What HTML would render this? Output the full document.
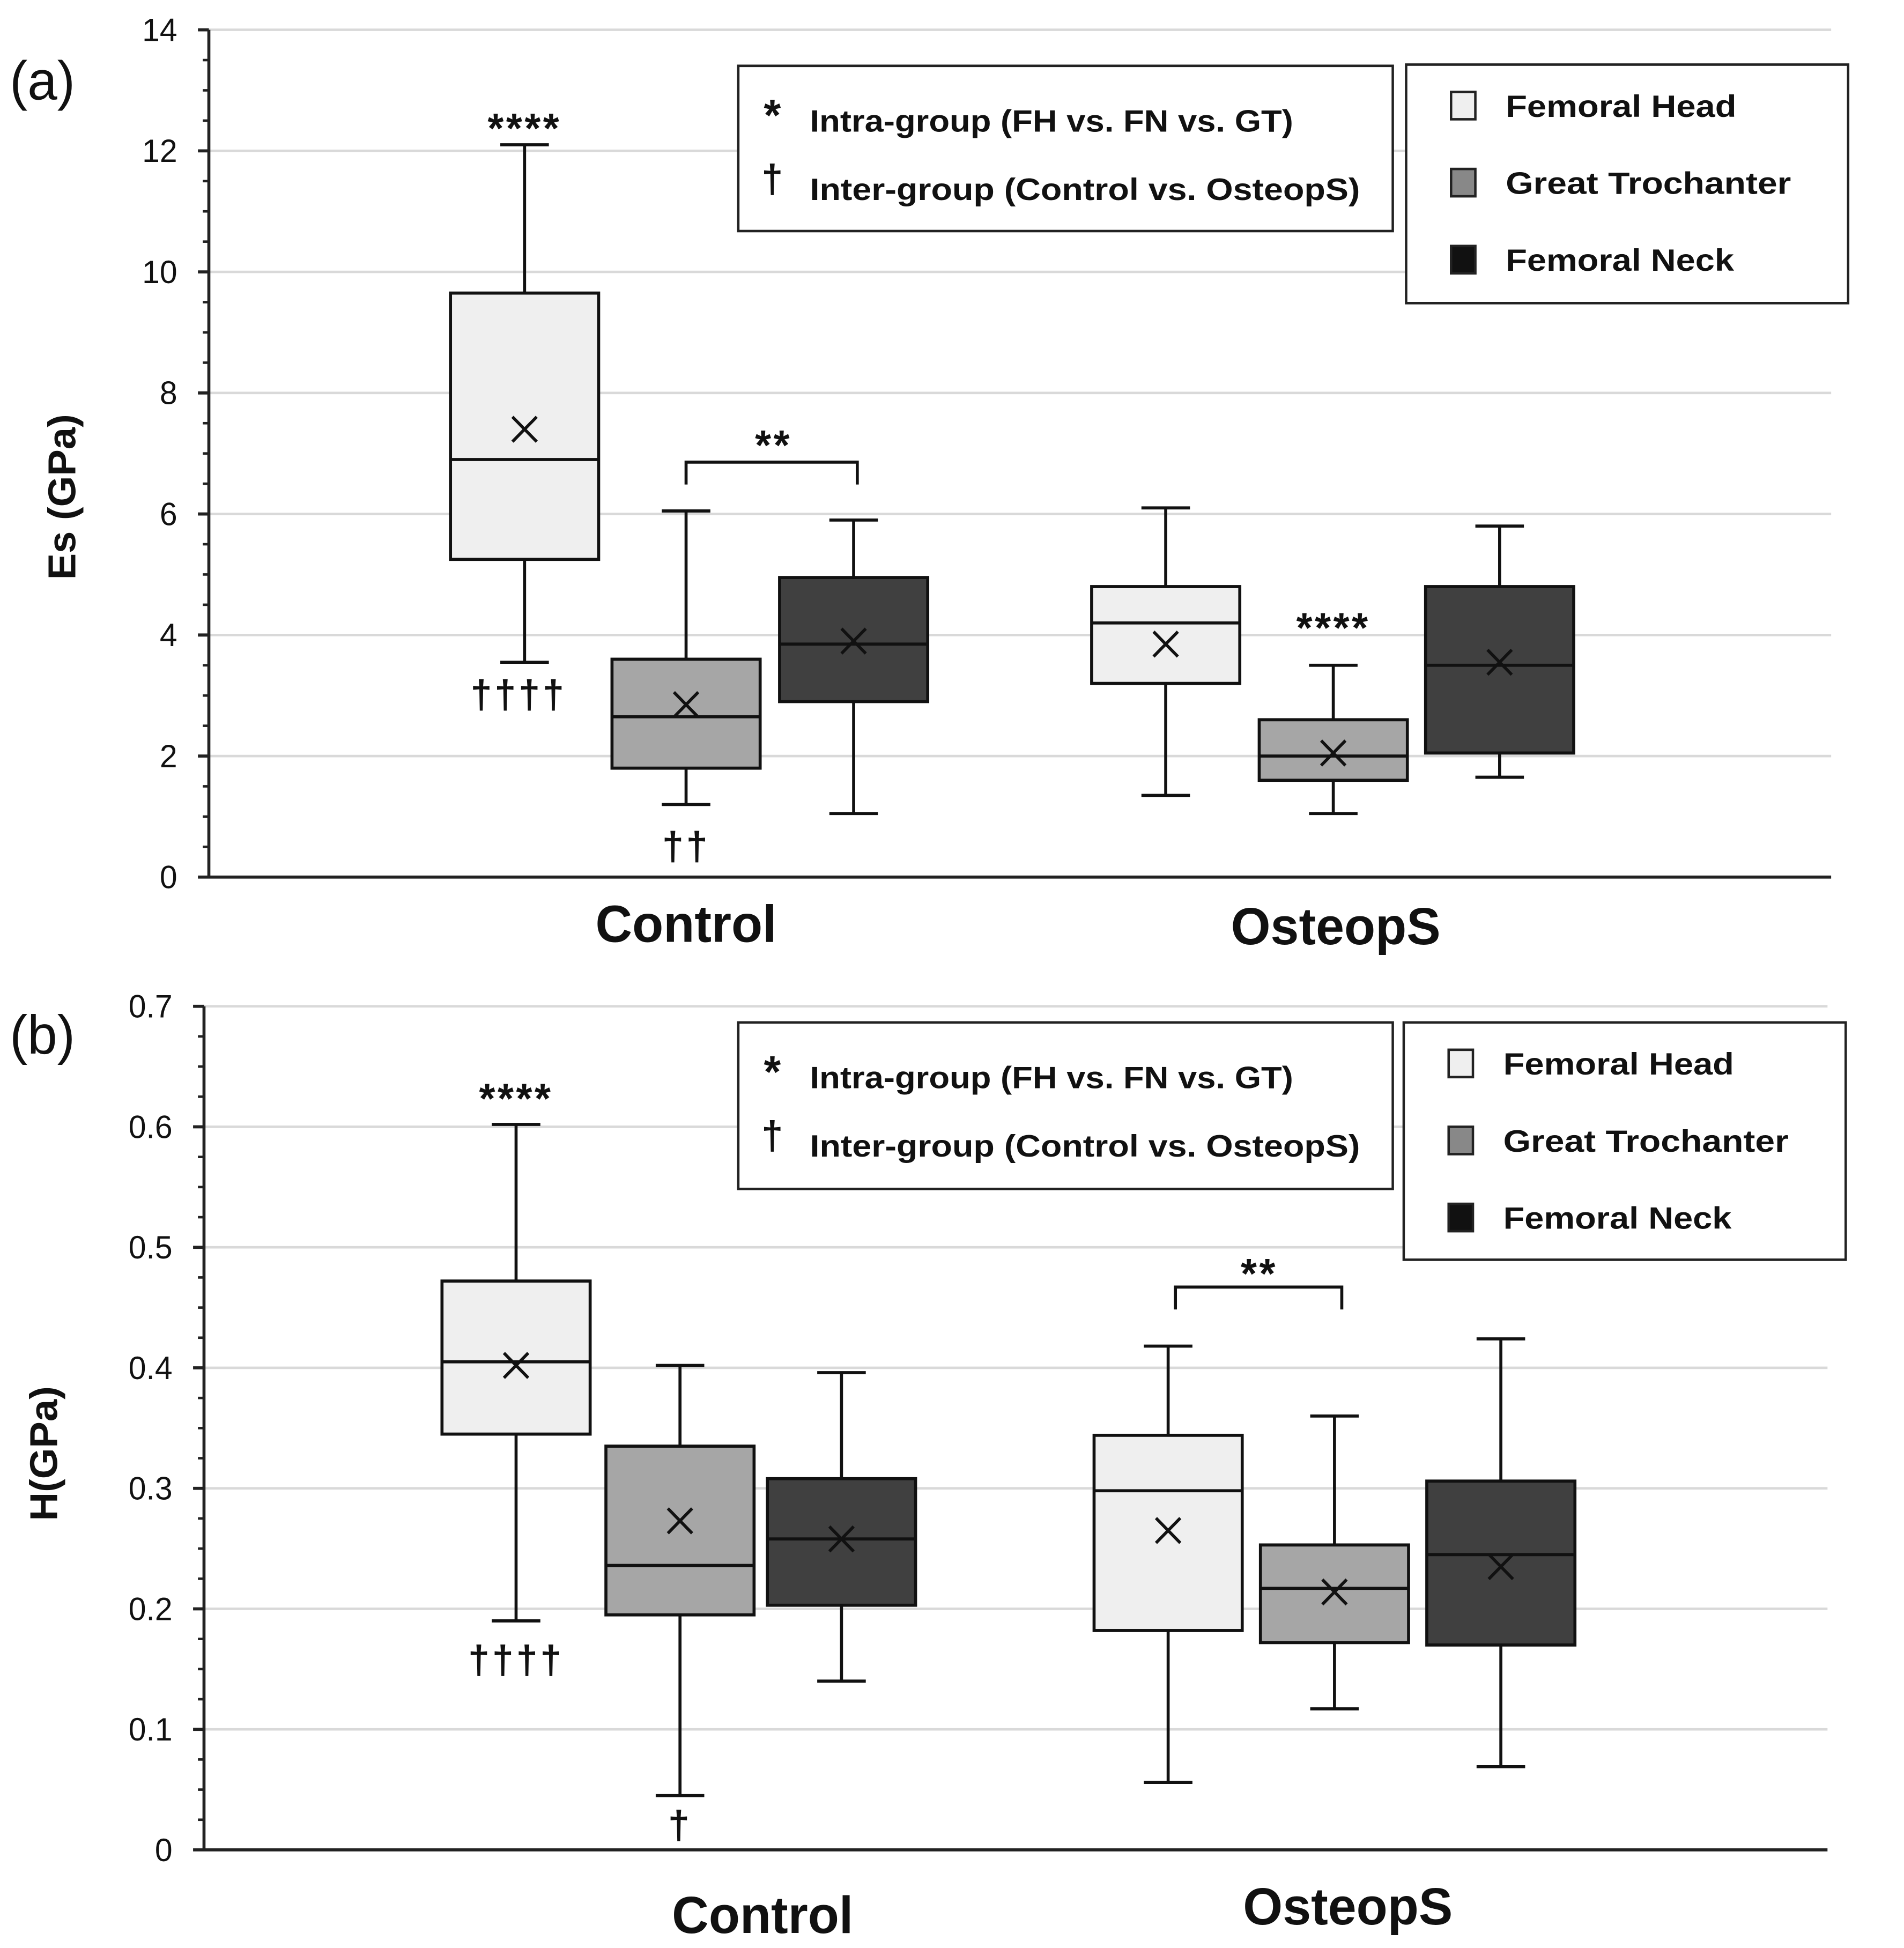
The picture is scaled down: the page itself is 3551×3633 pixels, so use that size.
<!DOCTYPE html>
<html><head><meta charset="utf-8"><style>
html,body{margin:0;padding:0;background:#fff;}
svg{display:block;}
text{font-family:"Liberation Sans",sans-serif;fill:#111;}
</style></head><body>
<svg id="chart" width="3551" height="3633" viewBox="0 0 1568 1568" preserveAspectRatio="none" xmlns="http://www.w3.org/2000/svg"></svg>
<script>
const groups = ["Control", "OsteopS"];
const seriesNames = ["Femoral Head", "Great Trochanter", "Femoral Neck"];
const seriesColors = ["#efefef", "#a6a6a6", "#404040"];
// panel a: Es (GPa) [min, q1, median, q3, max, mean] per group per series
const esControl = [[3.55, 5.25, 6.9, 9.65, 12.1, 7.4], [1.2, 1.8, 2.65, 3.6, 6.05, 2.85], [1.05, 2.9, 3.85, 4.95, 5.9, 3.9]];
const esOsteop = [[1.35, 3.2, 4.2, 4.8, 6.1, 3.85], [1.05, 1.6, 2.0, 2.6, 3.5, 2.05], [1.65, 2.05, 3.5, 4.8, 5.8, 3.55]];
const esTicks = [0, 2, 4, 6, 8, 10, 12, 14];
// panel b: H (GPa)
const hControl = [[0.19, 0.345, 0.405, 0.472, 0.602, 0.402], [0.045, 0.195, 0.236, 0.335, 0.402, 0.273], [0.14, 0.203, 0.258, 0.308, 0.396, 0.258]];
const hOsteop = [[0.056, 0.182, 0.298, 0.344, 0.418, 0.265], [0.117, 0.172, 0.217, 0.253, 0.36, 0.214], [0.069, 0.17, 0.245, 0.306, 0.424, 0.235]];
const hTicks = ["0", "0.1", "0.2", "0.3", "0.4", "0.5", "0.6", "0.7"];

const NS = "http://www.w3.org/2000/svg";
const svg = document.getElementById("chart");
function mk(tag, attrs, parent, txt) {
  const e = document.createElementNS(NS, tag);
  for (const k in attrs) e.setAttribute(k, attrs[k]);
  if (txt !== undefined) e.textContent = txt;
  (parent || svg).appendChild(e);
  return e;
}

function panel(cfg) {
  const g = mk("g", {});
  
  
  const y = v => cfg.y0 - (v - cfg.vmin) / (cfg.vmax - cfg.vmin) * (cfg.y0 - cfg.yTop);
  cfg.ticks.forEach((t, i) => {
    const v = cfg.vmin + i * cfg.step;
    if (i > 0) {
      const gl = mk("line", {x1: cfg.ax, x2: cfg.xr, y1: y(v), y2: y(v), stroke: "#d9d9d9", "stroke-width": 2}, g);
      
      
    }
    const tl = mk("text", {x: cfg.ax - 26, y: y(v) + 9, "text-anchor": "end", "font-size": 26}, g, t);
    
    
    mk("line", {x1: cfg.ax - 9, x2: cfg.ax, y1: y(v), y2: y(v), stroke: "#222", "stroke-width": 2.5}, g);
  });
  const nMinor = (cfg.ticks.length - 1) * cfg.minor;
  for (let i = 1; i < nMinor; i++) {
    if (i % cfg.minor === 0) continue;
    const v = cfg.vmin + i * cfg.step / cfg.minor;
    mk("line", {x1: cfg.ax - 5, x2: cfg.ax, y1: y(v), y2: y(v), stroke: "#222", "stroke-width": 2}, g);
  }
  const ya = mk("line", {x1: cfg.ax, x2: cfg.ax, y1: cfg.yTop, y2: cfg.y0, stroke: "#222", "stroke-width": 2.5}, g);
  
  
  const xa = mk("line", {x1: cfg.ax, x2: cfg.xr, y1: cfg.y0, y2: cfg.y0, stroke: "#222", "stroke-width": 2.5}, g);
  
  
  [cfg.ctrl, cfg.ost].forEach((grp, gi) => {
    grp.forEach((d, si) => {
      const cx = cfg.centers[gi][si], hw = 61;
      const bg = mk("g", {}, g);
      
      
      mk("line", {x1: cx, x2: cx, y1: y(d[4]), y2: y(d[0]), stroke: "#111", "stroke-width": 2.5}, bg);
      mk("line", {x1: cx - 20, x2: cx + 20, y1: y(d[4]), y2: y(d[4]), stroke: "#111", "stroke-width": 2.5}, bg);
      mk("line", {x1: cx - 20, x2: cx + 20, y1: y(d[0]), y2: y(d[0]), stroke: "#111", "stroke-width": 2.5}, bg);
      mk("rect", {x: cx - hw, y: y(d[3]), width: 2 * hw, height: y(d[1]) - y(d[3]), fill: seriesColors[si], stroke: "#111", "stroke-width": 2.5}, bg);
      mk("line", {x1: cx - hw, x2: cx + hw, y1: y(d[2]), y2: y(d[2]), stroke: "#111", "stroke-width": 2.5}, bg);
      const my = y(d[5]), s = 10;
      mk("path", {d: `M${cx - s},${my - s}L${cx + s},${my + s}M${cx - s},${my + s}L${cx + s},${my - s}`, stroke: "#111", "stroke-width": 2.5, fill: "none"}, bg);
    });
  });
  cfg.glabels.forEach((p, i) => {
    const t = mk("text", {x: p[0], y: p[1], "text-anchor": "middle", "font-size": 42, "font-weight": "bold"}, g, groups[i]);
    
    
  });
  const pl = mk("text", {x: 8, y: cfg.letterY, "font-size": 44}, g, cfg.letter);
  
  
  const yt = mk("text", {x: 0, y: 0, transform: `translate(${cfg.ytx},${cfg.yty}) rotate(-90)`, "text-anchor": "middle", "font-size": 32, "font-weight": "bold"}, g, cfg.ytitle);
  
  
  cfg.annots.forEach(a => {
    const t = mk("text", {x: a[0], y: a[1], "text-anchor": "middle", "font-size": a[3] || 34, "font-weight": "bold", "letter-spacing": 2}, g, a[2]);
    
    
  });
  const br = cfg.bracket;
  const bp = mk("path", {d: `M${br[0]},${br[2] + 18}V${br[2]}H${br[1]}V${br[2] + 18}`, stroke: "#111", "stroke-width": 2.5, fill: "none"}, g);
  
  
  const l1 = cfg.leg1;
  const lg1 = mk("g", {}, g);
  
  
  mk("rect", {x: l1[0], y: l1[1], width: l1[2] - l1[0], height: l1[3] - l1[1], fill: "#fff", stroke: "#222", "stroke-width": 2}, lg1);
  mk("text", {x: l1[0] + 28, y: l1[1] + 52, "font-size": 36, "font-weight": "bold", "text-anchor": "middle"}, lg1, "*");
  mk("text", {x: l1[0] + 59, y: l1[1] + 53, "font-size": 25, "font-weight": "bold", textLength: 398, lengthAdjust: "spacingAndGlyphs"}, lg1, "Intra-group (FH vs. FN vs. GT)");
  mk("text", {x: l1[0] + 28, y: l1[1] + 102, "font-size": 32, "font-weight": "bold", "text-anchor": "middle"}, lg1, "†");
  mk("text", {x: l1[0] + 59, y: l1[1] + 108, "font-size": 25, "font-weight": "bold", textLength: 453, lengthAdjust: "spacingAndGlyphs"}, lg1, "Inter-group (Control vs. OsteopS)");
  const l2 = cfg.leg2;
  const lg2 = mk("g", {}, g);
  
  
  mk("rect", {x: l2[0], y: l2[1], width: l2[2] - l2[0], height: l2[3] - l2[1], fill: "#fff", stroke: "#222", "stroke-width": 2}, lg2);
  const lens = [190, 235, 188];
  seriesNames.forEach((n, i) => {
    const ey = l2[1] + 33 + i * 62;
    const e = mk("g", {}, lg2);
    
    
    mk("rect", {x: l2[0] + 37, y: ey - 11, width: 20, height: 22, fill: i === 2 ? "#111" : (i === 1 ? "#888" : seriesColors[i]), stroke: "#222", "stroke-width": 2}, e);
    mk("text", {x: l2[0] + 82, y: ey + 9, "font-size": 25, "font-weight": "bold", textLength: lens[i], lengthAdjust: "spacingAndGlyphs"}, e, n);
  });
}

panel({name: "panel-a-es", y0: 706, yTop: 24, vmin: 0, vmax: 14, step: 2, minor: 4, ticks: esTicks.map(String),
  ax: 172, xr: 1508, ctrl: esControl, ost: esOsteop,
  centers: [[432, 565, 703], [960, 1098, 1235]],
  glabels: [[565, 758], [1100, 760]], letter: "(a)", letterY: 80,
  ytitle: "Es (GPa)", ytx: 62, yty: 400,
  annots: [[432, 115, "****"], [427, 570, "††††", 32], [637, 370, "**"], [565, 692, "††", 32], [1098, 517, "****"]],
  bracket: [565, 706, 372],
  leg1: [608, 53, 1147, 186], leg2: [1158, 52, 1522, 244]});

panel({name: "panel-b-h", y0: 1489, yTop: 810, vmin: 0, vmax: 0.7, step: 0.1, minor: 4, ticks: hTicks,
  ax: 168, xr: 1505, ctrl: hControl, ost: hOsteop,
  centers: [[425, 560, 693], [962, 1099, 1236]],
  glabels: [[628, 1556], [1110, 1549]], letter: "(b)", letterY: 848,
  ytitle: "H(GPa)", ytx: 47, yty: 1170,
  annots: [[425, 896, "****"], [425, 1347, "††††", 32], [560, 1480, "†", 32], [1037, 1037, "**"]],
  bracket: [968, 1105, 1036],
  leg1: [608, 823, 1147, 957], leg2: [1156, 823, 1520, 1014]});
</script>
</body></html>
